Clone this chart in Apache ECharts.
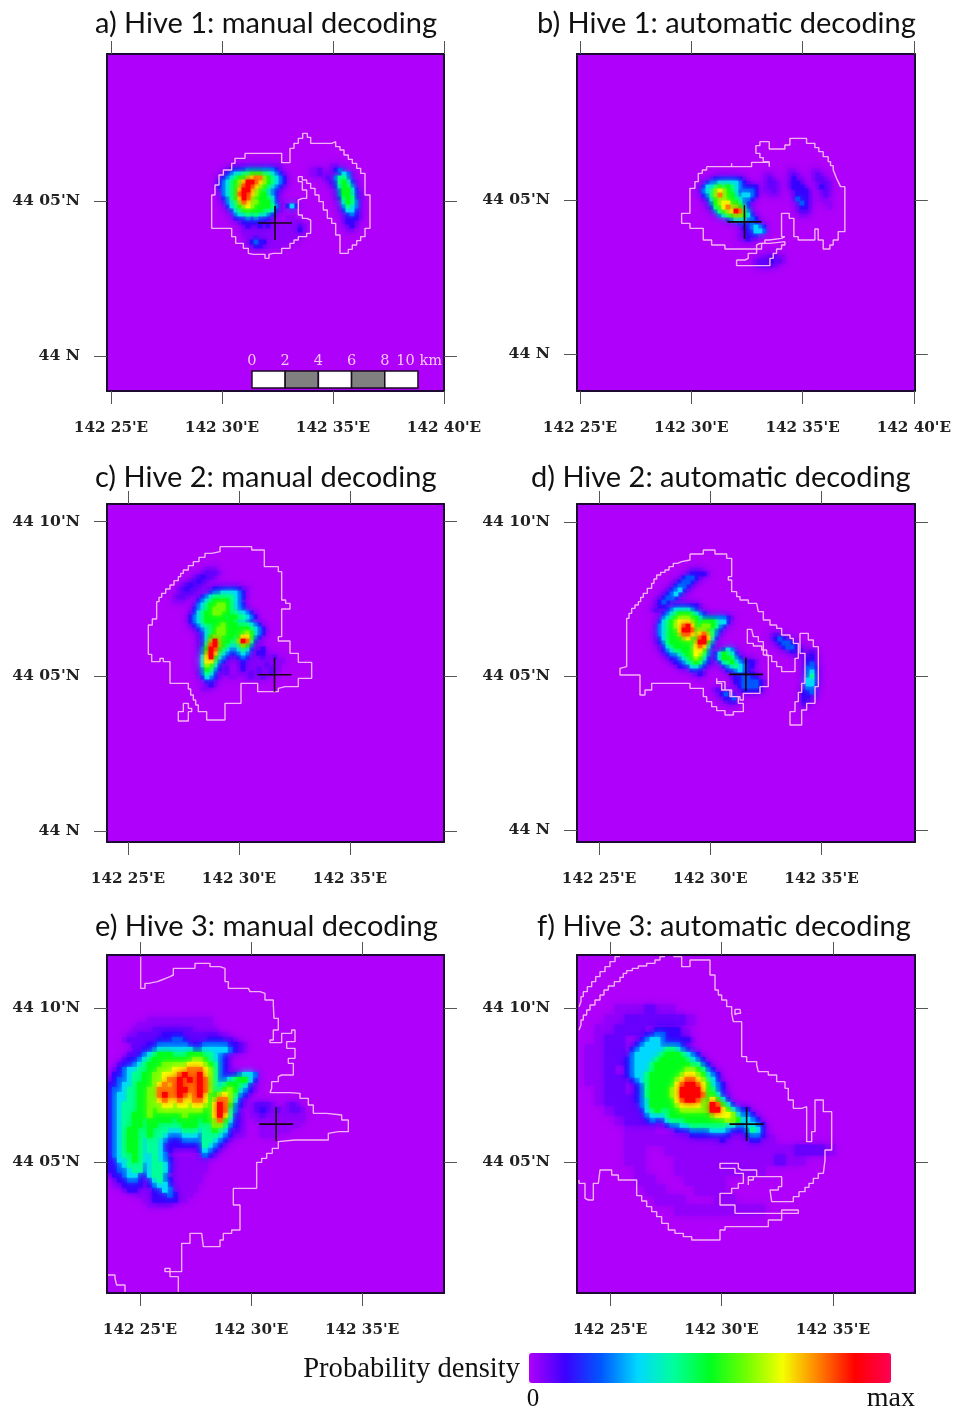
<!DOCTYPE html>
<html><head><meta charset="utf-8">
<style>html,body{margin:0;padding:0;background:#fff}#c{width:954px;height:1407px}</style>
<script src="https://cdn.jsdelivr.net/npm/echarts@6/dist/echarts.min.js"></script>
</head><body><div id="c"></div>
<script>
// ---------- chart text and ticks ----------
const panelTitles = ["a) Hive 1: manual decoding","b) Hive 1: automatic decoding","c) Hive 2: manual decoding","d) Hive 2: automatic decoding","e) Hive 3: manual decoding","f) Hive 3: automatic decoding"];
const lonTicks = [[25,30,35,40],[25,30,35,40],[25,30,35],[25,30,35],[25,30,35],[25,30,35]];
const latTicks = [[0,5],[0,5],[0,5,10],[0,5,10],[5,10],[5,10]];
const latLabels = {0:"44 N",5:"44 05'N",10:"44 10'N"};
const lonExtent = [[24.82,40],[24.865,40.045],[24.054,39.234],[24.009,39.2],[23.514,38.69],[23.514,38.69]];
const latExtent = [[-1.129,9.742],[-1.2,9.74],[-0.355,10.565],[-0.39,10.58],[0.747,11.72],[0.747,11.72]];
const hiveLon = [32.39,32.39,31.6,31.6,31.13,31.13];
const hiveLat = [4.29,4.29,5.05,5.05,6.23,6.23];
const scaleKm = [0,2,4,6,8,10];
const scaleLabels = ["0","2","4","6","8","10 km"];
const colourStops = ["#ae00fa","#3c00ff","#0058ff","#00d8ff","#00ff9c","#00ff20","#70ff00","#f4ff00","#ff8000","#ff0000","#ff0055"];

// ---------- density (. none, - trace, ~ faint, 1..9 and a = level up to max) ----------
const densityA1 = ["....------------","..-111122222221-",".-12334455544321-","-1234556788654321","12345679987654321","1234568987654321-","-23457997654321-",".23458987655321",".12457986555431",".-2346876655531","..1345676555542-.131","..-134555554431-..-","...-2334343321-","....111212111-...--",".....-111111--....---","......-1--1-1-------~-","......--------------1-","......---------------",".......--~-----------",".......-1211-------","........-11-----"];
const densityA2 = [".....--..","--~..-12-","--~----132-","...-~-2442-","....-~14531-",".....-13542-","......-25531","......-25531-","......-14541-",".......-3542-",".......-2432-",".......-1331-","........-121-","........-111-","........-11-",".........-1-",".........--"];
const densityB1 = ["","","...-1111111-",".-1223333321-","-13345454321111","-23467654312221",".12468655323321",".-135665543221","..-2567755421","..-1457866531","...-245679842-",".....234566531",".......12333221",".........-11121-","...........112321","...........-11332","..........--111-","..........--1--"];
const densityB2 = ["......--....--","--....-~-...-~-","-~-...-1--..-~~-","-~~-..-11-...-~~-","-~~-..-111-..-1~-","--~-...-111-..-~-",".---...-111-..-~-",".......-211-..--","........-21-...--","........-11-....-","........-~~-",".........--"];
const densityB3 = ["..--~~--..","-~~~1~~-","-~~~~-"];
const densityC1 = [".....--1111111--",".....-122333321","...-12344444321","...12345555432-","..-234556654321","..1234566654321",".-134556655443321",".12345555545544321",".1234555555543321",".-12344556555444321","..-12345665555554321","...-1345665555565321","...-135665554577521","...-13696554469841","...-1489654334652-","...-2598543223431--1","...-269743211232--11","...-3795321--121---~--~","...-377421-..-1----------","...-36531--..-1-----~---","...-25421-~..-1---~--~--","...-2431--~..---~-~--~-","....1321-..--..-~--~-",".....11-",".....-1-","....--"];
const densityC2 = ["........---",".......-~~~-",".....-~1~~-","....-~1~-","..-~1~~-",".-~1~~-",".-~~~-","-~~-","---"];
const densityD1 = [".....-111111-","...-12333321-","...12345554321","..-2345666553222222"+"1-","..134567776545554331",".-23456789755665421",".-2345579985665421",".-234556887678642-",".-134555675589731",".-12455555569952","..-1345555478731","..-123445557752-.-132-","...-12234557642-135431","....-1123456531-1355421",".....-112345421-.134532111-",".......1113321-...12343211","..........111......112321","...........-1-......-11111-","....................-112211-",".....................1122221-","......................122221","......................-11111"];
const densityD2 = ["..........---",".........-1111-","........1221-","......-1221-",".....-1221-","....-1231-","...-1231-","..-1221-",".-121-",".-11-","-~-"];
const densityD3 = ["-~-","-121-",".-1221-","..-1221-","....-1~1-","......--"];
const densityD4 = ["-~-",".-121-","..-112-","...-~~-"];
const densityD5 = ["--~-","-~1-","-11-","-12-","-221","-231","-241","-331","-331","-22-","112-","11--","1~-","~-","-"];
const densityE1 = ["........-------------","......---------------",".....----~~~~~~~~-----","....--~~~~~1111~~~~~~~--","...-~~~~~~111221~~~~111~~-",".....~~~112222221112222211~-",".....~~1123333333223333321~-","....~~123455544455544321-","...~11234"+"55555555"+"66"+"54321-","..~112345556666677765421-",".-1233445566677788876421",".11234455667778988976421112332","-12234455667889898986422345531","1123345556"+"7878988898"+"643455431-","1223445566"+"8888998898"+"644565321-","1233445566"+"8988987897"+"55676421-.","1233445566"+"7877877887"+"5688631-..","1234445566"+"6776776776"+"5798521-..","1234445565"+"6666666665"+"579842-","1234455565"+"5555565555"+"579741-","1234455455"+"5554555545"+"568531-","1234455455"+"4444455544"+"466421-","1234554454"+"4433344434"+"45431-","1234554454"+"4322233324"+"44321-","1234554344"+"3211122224"+"4321-","1234554344"+"3111111114"+"321-","1234554344"+"311-----13"+"21-","1234454334"+"32-.....-2"+"1-","1133454334"+"321-------","1123444234"+"431-------","1122344234"+"431-------","-112331134"+"42-------",".-11221-13"+"421------",".--1111-12"+"331-----","...-11--.1"+"132-----","......---1"+"1121---",".......--1"+"1111--","........--"+"---"];
const densityE2 = ["","...-~~~-..-~-","-..-~1~-~--~~-","~-.--~--------","~-..----------","~-...--------","~-...------","--...---"];
const densityF1 = [".....-11111--","...-1122111--","..-1233211111-",".-1233322221-",".123333344321-","-23333345554321","1233334555554321","12333455555554421","123334555555665421","1233455555567765321","-123455555678876431",".-124555557899875321",".-124555567999975421",".-124555567999985531-",".-1235555578998657531","..-2355555677776698531","..-1345445566666699753211","...-2333455555555677763221","...-12113444555555556653321",".....---12233444444433223321","..........111222233321112431","............-11111111---1221","..................-1-...-11-"];
const densityF2 = ["...---~--","..--~~~~~~-",".--~~~",".-~~","--~~","--~~","--~","--~~",".-~~",".-~~~","..-~~~","...-~~~","....---.......--","....---------------","....--..-------------~~~-","....--...----------~--",".....-...---------",".....--...----","......--...---",".......---...--",".........---------"];

// each grid: which panel, rows, where its first cell starts (in crop units), cell size (crop units)
const densityLayers = [
 [0,densityA1,84,132,12],[0,densityA2,360,132,12],
 [1,densityB1,84,132,12],[1,densityB2,282,132,12],[1,densityB3,250,390,12],
 [2,densityC1,150,156,12],[2,densityC2,114,96,12],
 [3,densityD1,120,192,12],[3,densityD2,120,84,12],[3,densityD3,480,279,12],[3,densityD4,306,444,12],[3,densityD5,576,330,12],
 [4,densityE1,22,202,15],[4,densityE2,405,442,15],
 [5,densityF1,150,232,15],[5,densityF2,30,165,30]
];

// ---------- outlines of the occupied area (crop units) ----------
const outlineA1 = [165,100,275,100,275,128,300,128,300,85,312,85,312,70,325,70,325,55,338,55,338,40,352,40,352,52,362,52,362,70,425,65,437,80,450,90,462,105,475,118,487,130,500,145,512,160,525,185,525,225,540,225,540,325,525,350,512,362,500,375,487,388,475,400,450,400,450,345,437,345,437,310,425,295,412,270,400,245,387,225,375,205,362,190,350,180,337,170,325,170,325,185,337,190,337,210,350,225,350,235,337,240,325,250,325,285,337,295,350,300,362,310,362,340,350,350,325,360,312,370,300,385,275,400,250,403,237,415,225,403,190,400,175,385,160,370,137,350,125,325,65,315,65,225,75,195,87,165,100,150,125,130,135,115,165,100];
const outlineB1 = [110,125,185,115,185,125,245,125,245,112,285,112,298,125,298,110,280,98,270,85,258,85,258,62,270,50,298,50,298,72,345,60,360,40,395,40,410,55,435,68,447,80,460,95,475,110,482,122,490,135,495,147,500,160,506,172,512,185,525,200,525,320,505,320,505,345,490,360,480,372,470,372,460,345,445,345,445,312,435,312,435,345,385,350,385,335,372,335,372,280,358,265,345,265,335,280,335,335,345,340,335,345,298,345,285,355,270,360,260,372,175,372,165,360,145,360,125,345,100,335,100,310,60,310,60,295,35,285,35,265,60,255,60,190,75,170,85,145,97,135,110,125];
const outlineB2 = [200,405,225,400,235,385,260,372,275,355,300,350,345,345,345,360,335,372,320,385,310,400,300,422,225,422,200,410,200,405];
const outlineC1 = [255,35,350,35,350,45,388,45,388,95,430,95,430,110,440,110,440,195,452,195,452,205,465,210,465,222,440,232,440,305,430,305,430,318,465,330,465,355,490,370,490,382,505,382,530,400,530,430,490,442,490,455,450,460,430,470,380,470,368,445,340,445,318,465,318,505,270,505,270,555,230,555,215,530,190,510,182,495,175,480,167,462,160,445,120,445,105,430,105,380,85,370,75,380,50,358,40,355,40,270,52,252,65,235,65,200,72,187,80,175,92,162,105,150,117,137,130,125,137,115,145,105,160,92,175,80,192,67,210,55,230,50,255,35];
const outlineC2 = [145,505,160,505,160,520,170,530,160,545,160,558,145,558,130,545,130,530,145,520,145,505];
const outlineD1 = [240,42,280,42,280,30,315,30,315,42,350,42,350,55,365,55,365,110,355,110,355,120,365,125,365,155,380,170,390,170,390,180,415,190,440,195,445,215,460,220,460,240,480,245,480,255,500,265,515,285,540,295,550,310,565,330,565,355,555,375,555,395,530,395,515,380,500,365,485,347,470,330,455,318,430,310,412,295,412,268,425,268,430,290,445,305,460,318,460,345,475,395,475,440,460,440,450,460,400,480,390,470,365,450,345,425,320,415,320,430,335,450,360,470,385,490,400,515,370,525,345,512,320,500,305,485,290,470,280,445,255,445,240,430,140,430,125,450,105,465,90,430,90,405,50,405,30,385,30,380,50,360,50,235,57,220,65,205,75,195,85,185,92,172,100,160,112,145,125,130,132,117,140,105,152,97,165,90,177,80,190,70,202,65,215,60,240,42];
const outlineD2 = [570,280,595,280,595,300,610,320,625,345,625,440,615,490,590,510,575,555,540,555,540,515,555,485,565,457,575,430,585,380,585,340,570,310,570,280];
const outlineE1 = [122,20,122,115,135,115,135,100,147,97,160,95,172,90,185,85,197,80,210,75,220,55,285,55,285,40,330,40,330,50,360,55,375,75,375,95,385,115,445,115,450,125,480,130,495,150,520,165,522,205,535,205,535,240,520,270,510,270,510,278,545,278,545,250,575,240,585,255,585,275,560,295,585,325,565,340,580,375,545,380,535,395,515,415,510,428,570,430,600,445,625,465,640,490,680,495,725,510,745,515,745,545,715,550,685,570,585,575,535,595,517,610,500,625,485,637,470,650,470,715,400,730,400,765,420,790,420,840,395,850,370,870,360,890,310,890,305,850,285,850,270,880,245,905,245,965,205,965,195,955,210,950,210,980,235,1000,235,1025];
const outlineE2 = [22,975,45,985,50,1005,75,1025];
const outlineF1 = [135,20,120,35,105,50,90,65,75,80,62,95,50,110,37,125,25,140,18,155,12,170];
const outlineF2 = [270,20,255,30,240,40,215,48,190,55,172,62,155,70,145,82,135,95,118,108,100,120,87,135,75,150,60,165,45,180,35,195,25,210,18,225,12,240];
const outlineF3 = [295,20,320,50,345,30,405,40,405,75,420,90,420,120,430,135,440,150,455,170,470,190,475,215,500,240,500,320,515,335,545,345,550,365,580,375,605,395,630,415,640,450,655,475,680,470,695,505,695,575,710,575,710,545,720,535,720,450,745,450,745,485,770,490,770,600,750,630,745,670,730,685,715,700,702,712,690,725,672,740,655,755,590,755,585,720,610,710,620,680,535,690,520,705,520,680,545,660,500,655,490,640,435,640,435,655,480,670,505,700,490,715,470,730,435,750,435,765,480,790,670,790,670,780,620,780,620,810,580,830,450,840,435,870,350,860,325,850,300,840,280,820,260,800,245,785,230,770,215,753,200,737,185,720,185,690,150,690,130,675,110,660,75,655,70,700,55,750,40,745,30,700,12,690];
const outlineF4 = [480,178,495,178,497,190,488,194,480,188,480,178];
const outlineLayers = [[0,outlineA1],[1,outlineB1],[1,outlineB2],[2,outlineC1],[2,outlineC2],[3,outlineD1],[3,outlineD2],[4,outlineE1],[4,outlineE2],[5,outlineF1],[5,outlineF2],[5,outlineF3],[5,outlineF4]];

// ---------- layout ----------
const gridBoxes = [[107,54,337,337],[577,54,338,337],[107,504,337,338],[577,504,338,338],[107,955,337,338],[577,955,338,338]];
const cropOffset = [[83,66],[93,71],[28,31],[33,36],[-7,-5],[-2,-5]];
const titlePos = [[95,9],[537,9],[95,463],[531,463],[95,912],[537,912]];
const labelFont = "DejaVu Serif";

const toLon = (p,z)=>{const m=cropOffset[p][0]+z/3,b=gridBoxes[p],e=lonExtent[p];return e[0]+m/b[2]*(e[1]-e[0]);};
const toLat = (p,z)=>{const m=cropOffset[p][1]+z/3,b=gridBoxes[p],e=latExtent[p];return e[1]-m/b[3]*(e[1]-e[0]);};

const series=[],xAxes=[],yAxes=[],grids=[],titles=[];
const densitySeriesIdx=[];

gridBoxes.forEach((b,p)=>{
  grids.push({left:b[0],top:b[1],width:b[2],height:b[3],show:true,backgroundColor:colourStops[0],borderWidth:0});
  titles.push({text:panelTitles[p],left:titlePos[p][0],top:titlePos[p][1],padding:0,textStyle:{fontFamily:"Lato",fontWeight:400,fontSize:29,color:"#111"}});
  const lineS={show:true,onZero:false,lineStyle:{color:"#1c0a33",width:2}};
  const tickS={show:true,length:13,lineStyle:{color:"#555",width:1},customValues:lonTicks[p]};
  const ax=(pos,lab)=>({gridIndex:p,type:"value",position:pos,min:lonExtent[p][0],max:lonExtent[p][1],z:5,axisLine:lineS,axisTick:tickS,splitLine:{show:false},
    axisLabel:lab?{show:true,customValues:lonTicks[p],margin:30,fontFamily:labelFont,fontWeight:"bold",fontSize:15.2,color:"#222",formatter:v=>"142 "+v+"'E"}:{show:false}});
  xAxes.push(ax("bottom",true),ax("top",false));
  const tickY={show:true,length:13,lineStyle:{color:"#555",width:1},customValues:latTicks[p]};
  const ay=(pos,lab)=>({gridIndex:p,type:"value",position:pos,min:latExtent[p][0],max:latExtent[p][1],z:5,axisLine:lineS,axisTick:tickY,splitLine:{show:false},
    axisLabel:lab?{show:true,customValues:latTicks[p],margin:27,padding:[6,0,0,0],fontFamily:labelFont,fontWeight:"bold",fontSize:15.6,color:"#222",formatter:v=>latLabels[v]}:{show:false}});
  yAxes.push(ay("left",true),ay("right",false));

  // density cells, weakest first so stronger cells blur over them
  const cells=[];
  densityLayers.filter(l=>l[0]===p).forEach(l=>{
    const rows=l[1],ox=l[2],oy=l[3],st=l[4];
    const dLon=toLon(p,st)-toLon(p,0),dLat=toLat(p,0)-toLat(p,st);
    rows.forEach((row,r)=>{[...row].forEach((ch,c)=>{
      if(ch===".")return;
      const v=ch==="-"?0.25:ch==="~"?0.6:parseInt(ch,16);
      cells.push([toLon(p,ox+(c+.5)*st),toLat(p,oy+(r+.5)*st),v,dLon,dLat]);
    });});
  });
  cells.sort((u,w)=>u[2]-w[2]);
  densitySeriesIdx.push(series.length);
  series.push({type:"custom",xAxisIndex:2*p,yAxisIndex:2*p,data:cells,clip:true,silent:true,z:2,animation:false,
    encode:{x:0,y:1},
    renderItem:(params,api)=>{
      const c=api.coord([api.value(0),api.value(1)]),s=api.size([api.value(3),api.value(4)]),col=api.visual("color");
      return {type:"rect",shape:{x:c[0]-s[0]/2-.4,y:c[1]-s[1]/2-.4,width:s[0]+.8,height:s[1]+.8},style:{fill:col,shadowBlur:7,shadowColor:col}};
    }});

  // occupied-area outlines
  outlineLayers.filter(l=>l[0]===p).forEach(l=>{
    const pts=[];for(let i=0;i<l[1].length;i+=2)pts.push([toLon(p,l[1][i]),toLat(p,l[1][i+1])]);
    series.push({type:"line",xAxisIndex:2*p,yAxisIndex:2*p,data:pts,step:"end",showSymbol:false,silent:true,clip:true,z:3,animation:false,
      lineStyle:{color:"#f6b2f2",width:1.4}});
  });

  // hive cross
  const hx=hiveLon[p],hy=hiveLat[p],dx=17/22.2,dy=17/31;
  series.push({type:"line",xAxisIndex:2*p,yAxisIndex:2*p,data:[[hx-dx,hy],[hx+dx,hy],["-","-"],[hx,hy-dy],[hx,hy+dy]],showSymbol:false,silent:true,z:4,animation:false,connectNulls:false,
    lineStyle:{color:"#14060c",width:1.6}});
});

// scale bar in panel a
const scaleStartLon=31.35,lonPerKm=0.7477,scaleTopLat=-0.484,scaleBottomLat=-1.03,scaleTextLat=-0.16;
series.push({type:"custom",xAxisIndex:0,yAxisIndex:0,silent:true,z:6,animation:false,clip:false,encode:{x:0,y:1},
  data:scaleKm.map((k,i)=>[scaleStartLon+k*lonPerKm,scaleTopLat,i]),
  renderItem:(params,api)=>{
    const i=api.value(2),c=api.coord([api.value(0),scaleTopLat]),b=api.coord([api.value(0)+2*lonPerKm,scaleBottomLat]),t=api.coord([api.value(0),scaleTextLat]);
    const ch=[{type:"text",style:{x:i===5?t[0]+24:t[0],y:t[1],text:scaleLabels[i],textAlign:i===5?"right":"center",textVerticalAlign:"middle",font:"14.5px DejaVu Serif",fill:"#fbc6f8"}}];
    if(i<5)ch.unshift({type:"rect",shape:{x:c[0],y:c[1],width:b[0]-c[0],height:b[1]-c[1]},style:{fill:i%2?"#808080":"#ffffff",stroke:"#1c0a20",lineWidth:1.5}});
    return {type:"group",children:ch};
  }});

const option={
  animation:false,backgroundColor:"#ffffff",
  title:titles,grid:grids,xAxis:xAxes,yAxis:yAxes,series:series,
  visualMap:{type:"continuous",min:0,max:10,dimension:2,seriesIndex:densitySeriesIdx,orient:"horizontal",left:529,top:1353,itemWidth:30,itemHeight:362,
    calculable:false,showLabel:false,text:null,hoverLink:false,padding:0,inRange:{color:colourStops}},
  graphic:[
    {type:"text",silent:true,style:{x:520,y:1369,text:"Probability density",textAlign:"right",textVerticalAlign:"middle",font:"28.6px Liberation Serif",fill:"#111"}},
    {type:"text",silent:true,style:{x:533,y:1399,text:"0",textAlign:"center",textVerticalAlign:"middle",font:"25px Liberation Serif",fill:"#111"}},
    {type:"text",silent:true,style:{x:915,y:1399,text:"max",textAlign:"right",textVerticalAlign:"middle",font:"28px Liberation Serif",fill:"#111"}}
  ]
};
echarts.init(document.getElementById("c"),null,{renderer:"canvas",width:954,height:1407}).setOption(option);
</script></body></html>
